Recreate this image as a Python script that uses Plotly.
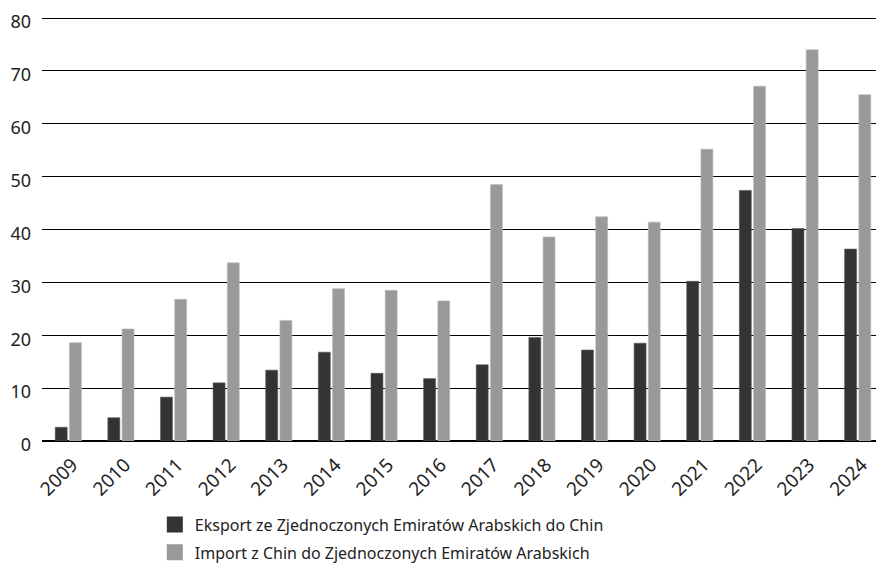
import plotly.graph_objects as go

years = ["2009", "2010", "2011", "2012", "2013", "2014", "2015", "2016",
         "2017", "2018", "2019", "2020", "2021", "2022", "2023", "2024"]
eksport = [2.6, 4.4, 8.3, 11.0, 13.4, 16.8, 12.8, 11.8,
           14.4, 19.6, 17.2, 18.5, 30.2, 47.4, 40.2, 36.3]
import_ = [18.6, 21.2, 26.8, 33.7, 22.8, 28.8, 28.5, 26.5,
           48.5, 38.6, 42.4, 41.4, 55.2, 67.1, 74.0, 65.5]
y_ticks = [0, 10, 20, 30, 40, 50, 60, 70, 80]

name_exp = "Eksport ze Zjednoczonych Emiratów Arabskich do Chin"
name_imp = "Import z Chin do Zjednoczonych Emiratów Arabskich"
col_exp = "#333333"
col_imp = "#999999"

fig = go.Figure()
fig.add_trace(go.Bar(x=years, y=eksport, name=name_exp, showlegend=False,
                     marker=dict(color=col_exp, line=dict(color="#555555", width=0.6))))
fig.add_trace(go.Bar(x=years, y=import_, name=name_imp, showlegend=False,
                     marker=dict(color=col_imp, line=dict(color="#bbbbbb", width=0.6))))
# legend entries (square swatches)
fig.add_trace(go.Scatter(x=[None], y=[None], mode="markers", name=name_exp, legendgroup="a",
                         marker=dict(symbol="square", size=16, color=col_exp)))
fig.add_trace(go.Scatter(x=[None], y=[None], mode="markers", name=name_imp, legendgroup="b",
                         marker=dict(symbol="square", size=16, color=col_imp)))

font_family = "Noto Sans, Open Sans, sans-serif"
# page body has an 8px margin: figure is sized so the chart fills the 884x565 window
fig.update_layout(
    width=876, height=557,
    margin=dict(l=34, r=0, t=9, b=124, autoexpand=False),
    paper_bgcolor="white", plot_bgcolor="white",
    barmode="group", bargap=0.46, bargroupgap=0.16,
    font=dict(family=font_family, size=16, color="#222222"),
    showlegend=True,
    legend=dict(orientation="v", x=0.134, xanchor="left",
                yref="container", y=0.103, yanchor="top",
                font=dict(size=16, color="#222222"), tracegroupgap=4,
                itemsizing="trace"),
    xaxis=dict(type="category", tickangle=-45, showgrid=False, showline=False,
               ticks="", tickfont=dict(size=19), automargin=False,
               ticklabelstandoff=8, ticklabelshift=4, ticklabeloverflow="allow"),
    yaxis=dict(range=[0, 80.2], tickvals=y_ticks, showgrid=True, gridcolor="#000000",
               gridwidth=1, zeroline=True, zerolinecolor="#000000", zerolinewidth=1.5,
               showline=False, ticks="", tickfont=dict(size=18), ticklabelstandoff=10,
               ticklabelshift=4, automargin=False, ticklabeloverflow="allow"),
)

fig.write_html("out.html")
